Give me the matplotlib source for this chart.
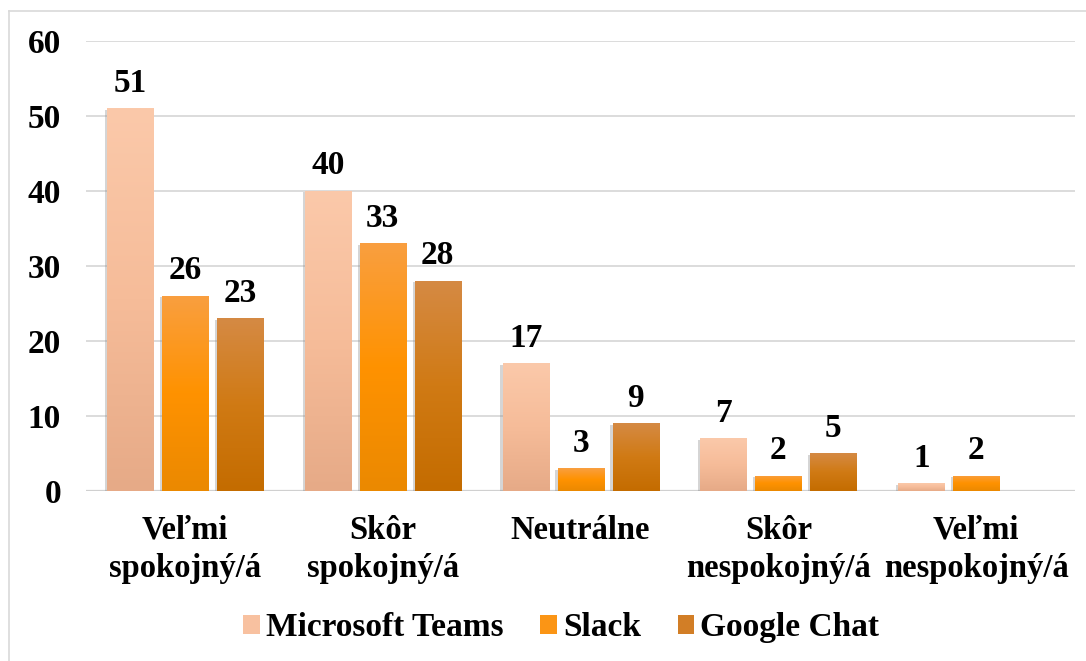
import numpy as np
import matplotlib
matplotlib.use('Agg')
import matplotlib.pyplot as plt
import matplotlib.patheffects as pe
from matplotlib.colors import LinearSegmentedColormap
from matplotlib.patches import Patch
from matplotlib.lines import Line2D

categories = ['Veľmi\nspokojný/á', 'Skôr\nspokojný/á', 'Neutrálne',
              'Skôr\nnespokojný/á', 'Veľmi\nnespokojný/á']
series_names = ['Microsoft Teams', 'Slack', 'Google Chat']
teams = [51, 40, 17, 7, 1]
slack = [26, 33, 3, 2, 2]
gchat = [23, 28, 9, 5, 0]

# gradient stops (bottom -> top) per series
grads = [['#E6AA87', '#F6BC99', '#FBC9AA'],
         ['#EB8900', '#FF9200', '#F99F40'],
         ['#C46C00', '#D07A14', '#D58A44']]
mids = ['#F8C1A0', '#FB9515', '#D27E26']

plt.rcParams['font.family'] = ['Liberation Serif', 'DejaVu Serif']
plt.rcParams['font.weight'] = 'bold'
plt.rcParams['font.size'] = 24

fig = plt.figure(figsize=(10.86, 6.61), dpi=100)
ax = fig.add_axes([0.0792, 0.2572, 0.9108, 0.6808])

x = np.arange(len(categories))
w = 0.233
step = 0.278
grad = np.linspace(0, 1, 256).reshape(-1, 1)

for i, vals in enumerate([teams, slack, gchat]):
    bars = ax.bar(x + (i - 1) * step, vals, w, color=mids[i], zorder=2,
                  path_effects=[pe.SimplePatchShadow(offset=(-1.5, -1), alpha=0.35,
                                                     shadow_rgbFace='#888888'),
                                pe.Normal()])
    cmap = LinearSegmentedColormap.from_list('g%d' % i, grads[i])
    for b in bars:
        if b.get_height() <= 0:
            continue
        im = ax.imshow(grad, cmap=cmap, origin='lower', aspect='auto', zorder=3,
                       extent=[b.get_x(), b.get_x() + b.get_width(), 0, b.get_height()])
        im.set_clip_path(b)
    labels = ['' if v == 0 else str(v) for v in vals]
    ax.bar_label(bars, labels=labels, padding=7, fontsize=24, fontweight='bold')

ax.set_xlim(-0.5, len(categories) - 0.5)
ax.set_ylim(0, 60)
ax.set_yticks(range(0, 61, 10))
ax.set_xticks(x)
ax.set_xticklabels(categories, linespacing=1.3, fontsize=23.5)
ax.tick_params(axis='both', length=0)
ax.tick_params(axis='y', pad=18)
ax.tick_params(axis='x', pad=17)
ax.grid(True, axis='y', color='#d9d9d9', lw=1.3, zorder=0)
ax.set_axisbelow(True)
for s in ax.spines.values():
    s.set_visible(False)
ax.axhline(0, color='#d0d0d0', lw=1.6, zorder=1)

handles = [Patch(facecolor=mids[i]) for i in range(3)]
fig.legend(handles, series_names, loc='center', bbox_to_anchor=(0.517, 0.05),
           ncol=3, frameon=False, fontsize=24, handlelength=0.5, handleheight=0.5,
           handletextpad=0.18, columnspacing=1.1)

# outer chart border (cropped on the right and bottom)
fig.add_artist(Line2D([9 / 1086, 9 / 1086], [0, 1 - 11 / 661], transform=fig.transFigure,
                      color='#d9d9d9', lw=1.2))
fig.add_artist(Line2D([9 / 1086, 1], [1 - 11 / 661, 1 - 11 / 661], transform=fig.transFigure,
                      color='#d9d9d9', lw=1.2))

fig.savefig('out.png', dpi=100)
